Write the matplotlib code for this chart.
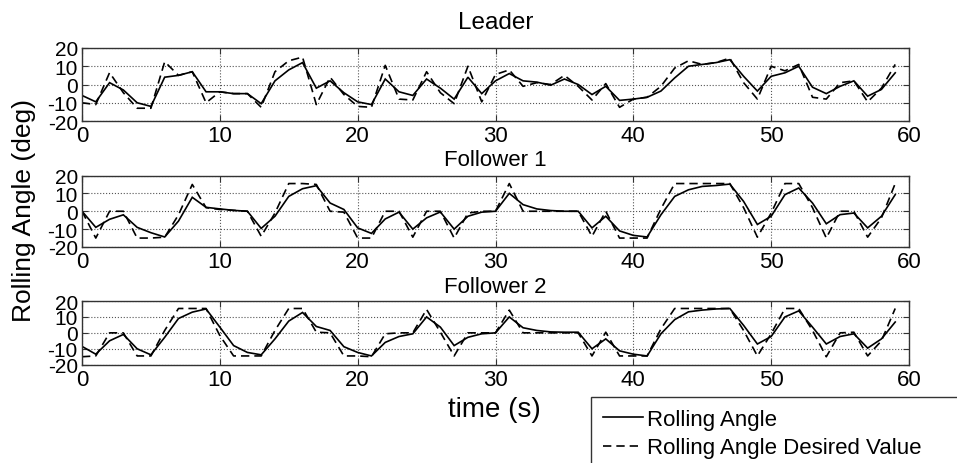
import matplotlib
matplotlib.use("Agg")
import matplotlib.pyplot as plt
from matplotlib.patches import Rectangle
from matplotlib.lines import Line2D

plt.rcParams['font.family'] = ['Liberation Sans', 'DejaVu Sans']
plt.rcParams['axes.unicode_minus'] = False

# time axis (s), one sample per second
time_s = list(range(60))

leader_actual = [-6, -9.5, 1, -3, -10, -12, 4, 5, 7, -4,
                 -4, -5, -5, -10.5, 2, 8, 12, -2, 2, -4.5,
                 -9.5, -11, 3, -4, -6, 3, -2, -8, 4, -5,
                 2, 6, 2, 1.3, -0.4, 3, 0, -5.5, -1, -8.7,
                 -8, -7, -3.6, 3.6, 10, 11, 12, 13.6, 4.5, -3.6,
                 4.5, 6.4, 10, -1.5, -5, -1, 2, -6.4, -2.7, 6.4]
leader_desired = [-10, -11, 6.5, -4.5, -13, -13, 12.5, 5, 7, -10,
                  -4, -5, -5, -12.5, 7, 13, 15, -11, 4, -5.5,
                  -12, -12.5, 10.5, -8, -8.5, 7, -4.5, -10.5, 10, -9.5,
                  5.5, 8, -1, 1, 0, 5, -1, -8.5, 0.5, -12.5,
                  -8, -7, -1, 9, 13, 11, 12, 14.5, 1, -8,
                  10, 7.5, 11, -7, -8, 1, 2, -9.5, -2, 11]

follower1_actual = [0, -9, -4.5, -2, -9, -12, -14.4, -5.5, 7.8, 2.2,
                    1.3, 0.5, 0, -9.6, -2.8, 8.3, 12.6, 14.3, 4.6, 1,
                    -9.3, -12.4, -4.3, -0.5, -10, -3.7, -0.4, -10, -2.8, -0.5,
                    0, 10, 3.7, 1.3, 0.4, 0, 0, -9.3, -2.8, -11,
                    -13.5, -14.4, -2, 8.3, 12, 13.9, 14.4, 15.2, 5.5, -7.4,
                    -2.8, 9.3, 13, 4.6, -7, -1.9, -1, -9.3, -2.8, 9.3]
follower1_desired = [0, -15, 0, 0, -15, -15, -14.5, -2, 15, 2,
                     1, 0.5, 0, -14, -1, 15.5, 15.5, 15, 0, -0.5,
                     -15, -15, 0, 0, -14.5, 0, 0, -15, -1, 0,
                     0, 15.5, 0, 0, 0, 0, 0, -14, 0, -15,
                     -15, -15, 1.3, 15.5, 15.5, 15.5, 15.5, 15.5, 2, -14.5,
                     -1, 15.5, 15.5, 2, -15, 0, 0, -14.5, -3.7, 15.5]

follower2_actual = [-8.5, -13.4, -5, -1, -10, -13.8, -2.8, 9, 13, 15,
                    3.6, -8, -12.3, -13.8, -3.8, 7.4, 12.8, 4, 1.5, -8.7,
                    -12.3, -14.5, -6, -2.3, -0.6, 10, 3.6, -8, -2.8, -0.6,
                    0, 10, 3.2, 1.5, 0.6, 0.4, 0.4, -10, -3.8, -11.3,
                    -13.4, -14.5, -0.6, 8.3, 13.2, 14.3, 15, 15.3, 4.7, -7,
                    -2.3, 10, 13.8, 3.6, -7, -2.3, -0.6, -9.6, -3.8, 6.8]
follower2_desired = [-15, -14.5, 0, 0, -14.5, -14.5, 1.5, 15.3, 15.3, 15.3,
                     -1.7, -14.5, -14.5, -14.5, 1.5, 15.3, 15.3, 0.4, 0, -14.5,
                     -14.5, -15, -0.6, 0, 0, 14.7, 0.4, -14.5, 0, 0,
                     0, 14.3, 0, 0, 0, 0, 0, -14.5, 0.4, -14.5,
                     -14.5, -14.5, 2.5, 15.3, 15.3, 15.3, 15.3, 15.3, 1.5, -14.5,
                     -0.6, 15.3, 15.3, 1.5, -15, 0, 0.4, -14.5, -5, 15.3]

panel_titles = ['Leader', 'Follower 1', 'Follower 2']
x_ticks = [0, 10, 20, 30, 40, 50, 60]
y_ticks = [-20, -10, 0, 10, 20]

W, H = 957, 464
fig = plt.figure(figsize=(W / 100, H / 100), dpi=100)

# axes boxes in pixels: (top, bottom)
boxes = [(49, 122), (176.5, 248), (302, 365.7)]
title_pads = [14.4, 7.8, 6.3]
title_sizes = [17.5, 16, 16]
series = [(leader_actual, leader_desired),
          (follower1_actual, follower1_desired),
          (follower2_actual, follower2_desired)]

frame_col = '#333333'
dash = (0, (5, 3))
for (top, bot), title, pad, tsize, (act, des) in zip(boxes, panel_titles, title_pads,
                                                     title_sizes, series):
    ax = fig.add_axes([82 / W, 1 - bot / H, 827 / W, (bot - top) / H])
    ax.plot(time_s, act, color='black', lw=1.2, solid_joinstyle='miter')
    ax.plot(time_s, des, color='black', lw=1.2, linestyle=dash)
    ax.set_xlim(0, 60)
    ax.set_ylim(-20, 20)
    ax.set_xticks(x_ticks)
    ax.set_yticks(y_ticks)
    ax.grid(True, linestyle=':', color='#555555', lw=0.8)
    ax.tick_params(direction='in', length=4, top=True, right=True, color=frame_col)
    ax.tick_params(axis='x', labelsize=16, pad=3)
    ax.tick_params(axis='y', labelsize=15, pad=3)
    for s in ax.spines.values():
        s.set_color(frame_col)
        s.set_linewidth(1.0)
    ax.set_title(title, fontsize=tsize, pad=pad)

fig.text(494 / W, 1 - 417 / H, 'time (s)', fontsize=20, ha='center', va='baseline')
fig.text(24 / W, 1 - 210 / H, 'Rolling Angle (deg)', fontsize=19, rotation=90,
         ha='center', va='center')

# legend box, partly outside the canvas like the reference
fig.patches.append(Rectangle((591 / W, -0.1), 0.5, (1 - 398 / H) + 0.1,
                             transform=fig.transFigure, fill=False,
                             edgecolor=frame_col, lw=1.0))
handles = [Line2D([], [], color='black', lw=1.2),
           Line2D([], [], color='black', lw=1.2, linestyle=dash)]
fig.legend(handles, ['Rolling Angle', 'Rolling Angle Desired Value'],
           loc='upper left', bbox_to_anchor=(591 / W, 1 - 398 / H),
           frameon=False, fontsize=16, handlelength=1.8, handletextpad=0.15,
           borderpad=0.55, borderaxespad=0, labelspacing=0.32)

fig.savefig('out.png', dpi=100)
